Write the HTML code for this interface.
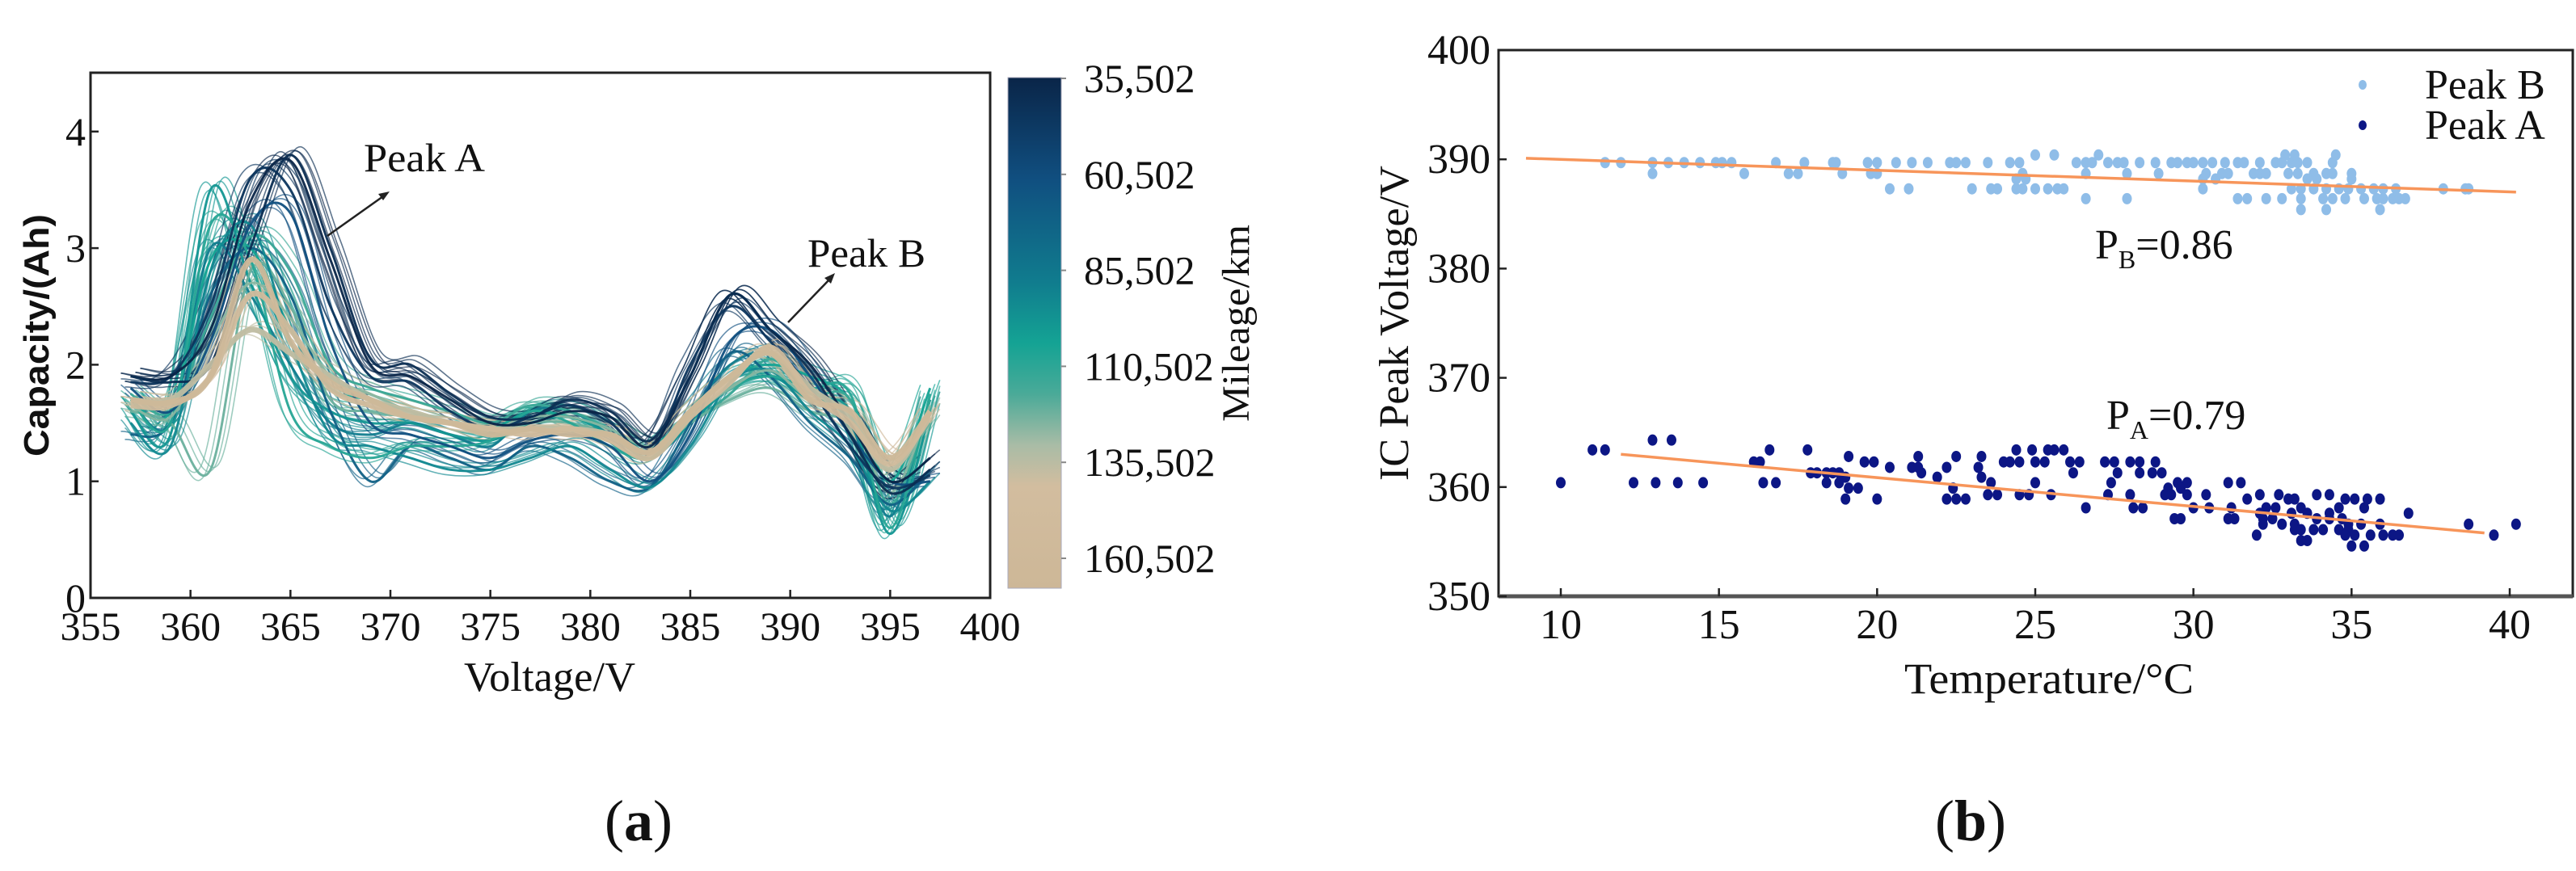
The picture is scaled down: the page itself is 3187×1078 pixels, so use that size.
<!DOCTYPE html>
<html><head><meta charset="utf-8"><style>
html,body{margin:0;padding:0;background:#fff;}
svg{display:block;}
text{font-family:"Liberation Serif",serif;fill:#111;}
</style></head><body>
<svg id="fig" width="3187" height="1078" viewBox="0 0 3187 1078" xmlns="http://www.w3.org/2000/svg">
<defs>
<linearGradient id="cmap" x1="0" y1="0" x2="0" y2="1">
<stop offset="0" stop-color="#0a2548"/>
<stop offset="0.2" stop-color="#104f80"/>
<stop offset="0.4" stop-color="#107c8e"/>
<stop offset="0.52" stop-color="#14a394"/>
<stop offset="0.62" stop-color="#4aaa98"/>
<stop offset="0.72" stop-color="#a9bca6"/>
<stop offset="0.8" stop-color="#d2bd9f"/>
<stop offset="1" stop-color="#cdb797"/>
</linearGradient>
</defs>
<g id="panelA"></g>
<g id="panelB"></g>
</svg>
<script>
// ---------- Panel (a) data ----------
const voltGrid = [357,359,361,363,365,367,369,371,373,375,377,379,381,383,385,387,389,391,393,395,397];
const curveMileage = [85502,95000,100000,110502,120000,70000,90000,105000,125000,60502,45000,35502,40000,135502,150000,160502];
const c0 = [1.7,1.5,3.0,2.6,2.0,1.5,1.4,1.5,1.4,1.3,1.6,1.6,1.4,1.25,1.6,2.0,2.1,1.8,1.5,0.7,1.7];
const c1 = [1.6,1.4,3.5,2.7,1.9,1.6,1.5,1.5,1.4,1.35,1.5,1.55,1.4,1.2,1.5,1.8,1.9,1.7,1.6,0.55,1.6];
const c2 = [1.7,1.6,2.9,3.0,2.3,1.8,1.7,1.6,1.5,1.45,1.6,1.55,1.45,1.3,1.6,1.9,2.0,1.9,1.7,1.0,1.8];
const c3 = [1.75,1.6,2.4,3.1,2.8,2.0,1.8,1.7,1.6,1.5,1.65,1.6,1.45,1.3,1.5,1.75,2.05,1.75,1.7,0.8,1.7];
const c4 = [1.6,1.5,1.1,2.8,2.5,1.7,1.6,1.55,1.5,1.4,1.5,1.5,1.4,1.25,1.5,1.7,1.8,1.6,1.5,1.1,1.5];
const c5 = [1.4,1.5,2.6,3.0,2.6,1.6,1.0,1.3,1.2,1.1,1.3,1.2,1.0,0.95,1.5,2.1,1.9,1.5,1.2,0.8,1.1];
const c6 = [1.5,1.3,2.8,3.2,2.2,1.4,1.3,1.2,1.1,1.1,1.2,1.3,1.1,0.95,1.3,1.85,1.95,1.6,1.3,0.75,1.0];
const c7 = [1.7,1.5,3.2,2.9,1.6,1.3,1.2,1.3,1.3,1.35,1.6,1.5,1.3,1.2,1.55,1.8,1.9,1.8,1.75,0.6,1.75];
const c8 = [1.65,1.55,2.2,2.7,2.4,1.9,1.75,1.6,1.5,1.45,1.55,1.55,1.45,1.3,1.55,1.8,1.95,1.7,1.6,0.9,1.65];
const c9 = [1.8,1.6,2.2,3.2,3.3,2.2,1.5,1.4,1.3,1.2,1.35,1.4,1.3,1.0,1.4,2.2,2.3,1.9,1.4,1.0,1.0];
const c10 = [1.85,1.9,2.5,3.6,3.5,2.5,1.9,1.85,1.6,1.45,1.55,1.65,1.5,1.25,2.0,2.5,2.2,1.8,1.3,0.95,1.05];
const c11 = [1.9,1.9,2.3,3.4,3.75,2.9,2.0,1.9,1.7,1.5,1.5,1.6,1.55,1.3,1.9,2.6,2.3,2.0,1.5,1.0,1.2];
const c12 = [1.9,1.85,2.0,3.0,3.8,3.0,2.05,2.0,1.75,1.55,1.55,1.7,1.6,1.35,1.9,2.6,2.3,1.95,1.4,0.9,1.1];
const c13 = [1.7,1.7,2.0,2.3,2.1,1.9,1.7,1.6,1.5,1.45,1.45,1.45,1.4,1.25,1.6,1.9,2.1,1.8,1.55,1.1,1.6];
const c14 = [1.65,1.65,1.9,2.6,2.3,1.8,1.65,1.55,1.5,1.45,1.4,1.45,1.35,1.2,1.55,1.85,2.15,1.75,1.5,1.15,1.55];
const c15 = [1.7,1.68,1.9,2.9,2.2,1.85,1.7,1.55,1.5,1.4,1.45,1.4,1.4,1.25,1.6,1.9,2.1,1.7,1.6,1.2,1.6];
const curves = [c0,c1,c2,c3,c4,c5,c6,c7,c8,c9,c10,c11,c12,c13,c14,c15];
const xTicksA = [355,360,365,370,375,380,385,390,395,400];
const yTicksA = [0,1,2,3,4];
const cbarTicks = [35502,60502,85502,110502,135502,160502];
const cbarLabels = ["35,502","60,502","85,502","110,502","135,502","160,502"];

// ---------- Panel (b) data ----------
const peakBTemp = [11.4,11.9,12.9,13.4,13.9,14.4,14.9,15.1,15.4,16.8,17.7,18.6,18.7,19.7,20.0,20.6,21.1,21.6,22.3,22.5,22.8,23.5,24.2,24.5,26.3,26.6,26.8,27.3,27.6,27.8,28.3,28.8,29.3,29.5,29.8,30.0,30.3,30.6,31.0,31.4,31.6,32.1,32.6,32.8,33.1,33.3,33.6,34.4,
25.0,25.6,27.0,32.9,33.2,34.5,
12.9,15.8,17.2,17.5,18.9,19.8,20.0,24.6,26.6,27.9,28.9,30.4,30.9,31.1,31.9,32.1,32.3,33.0,33.3,33.8,34.2,34.4,35.0,
24.4,24.7,30.3,30.7,33.6,33.9,35.0,
20.4,21.0,23.0,23.6,23.8,24.4,24.6,25.0,25.4,25.7,25.9,30.3,33.1,33.4,33.8,34.2,34.6,34.9,35.3,35.7,36.0,36.4,37.9,38.6,38.7,
26.6,27.9,31.4,31.7,32.3,32.8,33.4,34.1,34.4,34.8,35.4,35.8,36.0,36.3,36.5,36.7,
33.4,34.2,35.9];
const peakBVolt = [389.7,389.7,389.7,389.7,389.7,389.7,389.7,389.7,389.7,389.7,389.7,389.7,389.7,389.7,389.7,389.7,389.7,389.7,389.7,389.7,389.7,389.7,389.7,389.7,389.7,389.7,389.7,389.7,389.7,389.7,389.7,389.7,389.7,389.7,389.7,389.7,389.7,389.7,389.7,389.7,389.7,389.7,389.7,389.7,389.7,389.7,389.7,389.7,
390.4,390.4,390.4,390.4,390.4,390.4,
388.7,388.7,388.7,388.7,388.7,388.7,388.7,388.7,388.7,388.7,388.7,388.7,388.7,388.7,388.7,388.7,388.7,388.7,388.7,388.7,388.7,388.7,388.7,
388.2,388.2,388.2,388.2,388.2,388.2,388.2,
387.3,387.3,387.3,387.3,387.3,387.3,387.3,387.3,387.3,387.3,387.3,387.3,387.3,387.3,387.3,387.3,387.3,387.3,387.3,387.3,387.3,387.3,387.3,387.3,387.3,
386.4,386.4,386.4,386.4,386.4,386.4,386.4,386.4,386.4,386.4,386.4,386.4,386.4,386.4,386.4,386.4,
385.4,385.4,385.4];
const peakATemp = [12.9,13.5,
11.0,11.4,16.6,17.8,24.4,24.9,25.4,25.6,25.9,
19.1,21.3,22.5,23.3,
16.1,16.3,19.6,19.9,24.0,24.2,24.5,25.0,25.3,26.1,26.4,27.2,27.5,28.0,28.3,28.8,
20.4,21.1,21.3,22.2,23.2,
17.9,18.1,18.4,18.6,18.8,21.4,26.2,27.6,28.3,28.7,29.0,
19.0,21.9,23.3,
10.0,12.3,13.0,13.7,14.5,16.4,16.8,18.4,18.8,23.6,25.0,27.4,29.5,29.8,31.1,31.5,
19.1,19.4,22.4,29.2,29.6,
23.5,23.8,24.5,24.8,25.5,27.3,28.0,29.1,29.3,29.8,30.4,32.1,32.7,33.9,34.3,
19.0,20.0,22.2,22.5,22.8,31.7,33.0,33.2,34.8,35.1,35.5,35.9,
26.6,28.1,28.4,30.0,30.5,31.2,32.3,32.6,33.4,34.6,35.4,
32.1,33.1,33.6,34.3,36.8,
29.4,29.6,31.1,31.3,32.2,32.5,33.9,34.3,34.7,
32.2,32.8,33.2,34.9,35.3,35.9,38.7,40.2,
33.2,33.4,33.8,34.1,34.6,34.9,
32.0,34.8,35.1,35.6,36.0,36.3,36.5,39.5,
33.4,33.6,
35.0,35.4];
const peakAVolt = [364.3,364.3,
363.4,363.4,363.4,363.4,363.4,363.4,363.4,363.4,363.4,
362.8,362.8,362.8,362.8,
362.3,362.3,362.3,362.3,362.3,362.3,362.3,362.3,362.3,362.3,362.3,362.3,362.3,362.3,362.3,362.3,
361.8,361.8,361.8,361.8,361.8,
361.3,361.3,361.3,361.3,361.3,361.3,361.3,361.3,361.3,361.3,361.3,
360.9,360.9,360.9,
360.4,360.4,360.4,360.4,360.4,360.4,360.4,360.4,360.4,360.4,360.4,360.4,360.4,360.4,360.4,360.4,
359.9,359.9,359.9,359.9,359.9,
359.3,359.3,359.3,359.3,359.3,359.3,359.3,359.3,359.3,359.3,359.3,359.3,359.3,359.3,359.3,
358.9,358.9,358.9,358.9,358.9,358.9,358.9,358.9,358.9,358.9,358.9,358.9,
358.1,358.1,358.1,358.1,358.1,358.1,358.1,358.1,358.1,358.1,358.1,
357.6,357.6,357.6,357.6,357.6,
357.1,357.1,357.1,357.1,357.1,357.1,357.1,357.1,357.1,
356.6,356.6,356.6,356.6,356.6,356.6,356.6,356.6,
356.1,356.1,356.1,356.1,356.1,356.1,
355.6,355.6,355.6,355.6,355.6,355.6,355.6,355.6,
355.1,355.1,
354.6,354.6];
const fitBTemp = [8.9,40.2];
const fitBVolt = [390.1,387.0];
const fitATemp = [11.9,39.2];
const fitAVolt = [363.0,355.8];
const xTicksB = [10,15,20,25,30,35,40];
const yTicksB = [350,360,370,380,390,400];

const NS = "http://www.w3.org/2000/svg";
function mk(parent, tag, attrs, text){
  const e = document.createElementNS(NS, tag);
  for (const k in attrs) e.setAttribute(k, attrs[k]);
  if (text !== undefined) e.textContent = text;
  parent.appendChild(e);
  return e;
}

// ---------- Panel (a) ----------
const gA = document.getElementById('panelA');
const AL=112, AR=1225, AT=90, AB=740;
const xA = v => AL + (v-355)*(AR-AL)/45;
const yA = c => AB - c*144.3;

function hex(c){return [parseInt(c.slice(1,3),16),parseInt(c.slice(3,5),16),parseInt(c.slice(5,7),16)];}
const cmStops=[[35502,"#0a2548"],[60502,"#104f80"],[85502,"#107c8e"],[100000,"#14a394"],[115000,"#4aaa98"],[130000,"#a9bca6"],[140000,"#d2bd9f"],[167000,"#cdb797"]];
function cmap(m){
  for(let i=0;i<cmStops.length-1;i++){
    const [m0,c0s]=cmStops[i],[m1,c1s]=cmStops[i+1];
    if(m<=m1){const t=Math.max(0,(m-m0)/(m1-m0));const a=hex(c0s),b=hex(c1s);
      return "rgb("+a.map((v,j)=>Math.round(v+(b[j]-v)*t)).join(",")+")";}
  }
  return cmStops[cmStops.length-1][1];
}
function smoothPath(pts){
  let d="M"+pts[0][0].toFixed(1)+","+pts[0][1].toFixed(1);
  for(let i=0;i<pts.length-1;i++){
    const p0=pts[Math.max(0,i-1)],p1=pts[i],p2=pts[i+1],p3=pts[Math.min(pts.length-1,i+2)];
    const c1x=p1[0]+(p2[0]-p0[0])/6,c1y=p1[1]+(p2[1]-p0[1])/6;
    const c2x=p2[0]-(p3[0]-p1[0])/6,c2y=p2[1]-(p3[1]-p1[1])/6;
    d+=" C"+c1x.toFixed(1)+","+c1y.toFixed(1)+" "+c2x.toFixed(1)+","+c2y.toFixed(1)+" "+p2[0].toFixed(1)+","+p2[1].toFixed(1);
  }
  return d;
}
const linesG = mk(gA,'g',{});


const echoOffsets = [[6,-5],[-7,6],[12,-10],[-12,-4]];
curves.forEach((cv,i)=>{
  const m = curveMileage[i];
  echoOffsets.forEach(o=>{
    const pe = mk(linesG,'path',{d:smoothPath(cv.map((c,j)=>[xA(voltGrid[j])+o[0], yA(c)+o[1]])),fill:'none',stroke:cmap(m),'stroke-width':1.6,'stroke-opacity':0.65});
    
    
  });
});
curves.forEach((cv,i)=>{
  const m = curveMileage[i];
  const pts = cv.map((c,j)=>[xA(voltGrid[j]), yA(c)]);
  const p = mk(linesG,'path',{d:smoothPath(pts),fill:'none',stroke:cmap(m),'stroke-width': m>=130000?7:3,'stroke-opacity':0.95});
  
  
});

// axes frame
const frA = mk(gA,'rect',{x:AL,y:AT,width:AR-AL,height:AB-AT,fill:'none',stroke:'#222','stroke-width':3});


xTicksA.forEach(v=>{
  mk(gA,'line',{x1:xA(v),x2:xA(v),y1:AB,y2:AB-10,stroke:'#222','stroke-width':2.5});
  const t=mk(gA,'text',{x:xA(v),y:AB+52,'text-anchor':'middle','font-size':50},String(v));
  
  
});
yTicksA.forEach(v=>{
  mk(gA,'line',{x1:AL,x2:AL+10,y1:yA(v),y2:yA(v),stroke:'#222','stroke-width':2.5});
  const t=mk(gA,'text',{x:AL-6,y:yA(v)+17,'text-anchor':'end','font-size':50},String(v));
  
  
});
const xtA=mk(gA,'text',{x:680,y:855,'text-anchor':'middle','font-size':52,textLength:212,lengthAdjust:'spacingAndGlyphs'},'Voltage/V');


const ytA=mk(gA,'text',{x:0,y:0,'text-anchor':'middle','font-size':44,'font-weight':'bold',style:'font-family:"Liberation Sans",sans-serif',transform:'translate(60,415) rotate(-90)',textLength:300,lengthAdjust:'spacingAndGlyphs'},'Capacity/(Ah)');


// annotations
const paT=mk(gA,'text',{x:450,y:212,'font-size':50,textLength:150,lengthAdjust:'spacingAndGlyphs'},'Peak A');


mk(gA,'line',{x1:405,y1:292,x2:474,y2:243,stroke:'#222','stroke-width':2.5});
mk(gA,'path',{d:'M482,237 L468,240 L474,248 Z',fill:'#222'});
const pbT=mk(gA,'text',{x:999,y:330,'font-size':50,textLength:146,lengthAdjust:'spacingAndGlyphs'},'Peak B');


mk(gA,'line',{x1:975,y1:399,x2:1026,y2:346,stroke:'#222','stroke-width':2.5});
mk(gA,'path',{d:'M1033,338 L1020,344 L1028,351 Z',fill:'#222'});
// colorbar
const CT=96, CB=728, CL=1247, CR=1313;
const yC = m => CT + (m-35502)*(691-97)/125000 + 1;
const cb=mk(gA,'rect',{x:CL,y:CT,width:CR-CL,height:CB-CT,fill:'url(#cmap)',stroke:'#aab','stroke-width':1});


cbarTicks.forEach((m,i)=>{
  mk(gA,'line',{x1:CR,x2:CR+6,y1:yC(m),y2:yC(m),stroke:'#888','stroke-width':2});
  const t=mk(gA,'text',{x:1341,y:yC(m)+17,'font-size':50},cbarLabels[i]);
  
  
});
const cbt=mk(gA,'text',{x:0,y:0,'text-anchor':'middle','font-size':48,transform:'translate(1545,400) rotate(-90)',textLength:244,lengthAdjust:'spacingAndGlyphs'},'Mileage/km');


const capA=mk(gA,'text',{x:790,y:1040,'text-anchor':'middle','font-size':72},'');


mk(capA,'tspan',{},'(');mk(capA,'tspan',{'font-weight':'bold'},'a');mk(capA,'tspan',{},')');

// ---------- Panel (b) ----------
const gB = document.getElementById('panelB');
const BL=1854, BR=3183, BT=62, BB=738;
const xB = t => 1931 + (t-10)*(3105-1931)/30;
const yB = v => BB - (v-350)*(BB-BT)/50;
const ptsB=mk(gB,'g',{});


peakBTemp.forEach((t,i)=>{
  const c=mk(ptsB,'ellipse',{cx:xB(t),cy:yB(peakBVolt[i]),rx:6,ry:7,fill:'#8fbde8'});
  
  
});
const ptsA=mk(gB,'g',{});


peakATemp.forEach((t,i)=>{
  const c=mk(ptsA,'ellipse',{cx:xB(t),cy:yB(peakAVolt[i]),rx:6,ry:7,fill:'#0c1685'});
  
  
});
const fb=mk(gB,'line',{x1:xB(fitBTemp[0]),y1:yB(fitBVolt[0]),x2:xB(fitBTemp[1]),y2:yB(fitBVolt[1]),stroke:'#f7955a','stroke-width':3.5});


const fa=mk(gB,'line',{x1:xB(fitATemp[0]),y1:yB(fitAVolt[0]),x2:xB(fitATemp[1]),y2:yB(fitAVolt[1]),stroke:'#f7955a','stroke-width':3.5});


const frB=mk(gB,'rect',{x:BL,y:BT,width:BR-BL,height:BB-BT,fill:'none',stroke:'#222','stroke-width':3});


mk(gB,'line',{x1:BL,x2:BR,y1:BB,y2:BB,stroke:'#555','stroke-width':5});
xTicksB.forEach(v=>{
  mk(gB,'line',{x1:xB(v),x2:xB(v),y1:BB,y2:BB-10,stroke:'#222','stroke-width':2.5});
  const t=mk(gB,'text',{x:xB(v),y:BB+52,'text-anchor':'middle','font-size':52},String(v));
  
  
});
yTicksB.forEach(v=>{
  mk(gB,'line',{x1:BL,x2:BL+10,y1:yB(v),y2:yB(v),stroke:'#222','stroke-width':2.5});
  const t=mk(gB,'text',{x:BL-10,y:yB(v)+17,'text-anchor':'end','font-size':52},String(v));
  
  
});
const xtB=mk(gB,'text',{x:2535,y:858,'text-anchor':'middle','font-size':54,textLength:358,lengthAdjust:'spacingAndGlyphs'},'Temperature/°C');


const ytB=mk(gB,'text',{x:0,y:0,'text-anchor':'middle','font-size':52,transform:'translate(1742,400) rotate(-90)',textLength:390,lengthAdjust:'spacingAndGlyphs'},'IC Peak Voltage/V');


// legend
const lg=mk(gB,'g',{});


mk(lg,'ellipse',{cx:2923,cy:105,rx:5,ry:6,fill:'#8fbde8'});
const l1=mk(lg,'text',{x:3000,y:122,'font-size':52},'Peak B');


mk(lg,'ellipse',{cx:2923,cy:155,rx:5,ry:6,fill:'#0c1685'});
const l2=mk(lg,'text',{x:3000,y:172,'font-size':52},'Peak A');


// correlation labels
const pb=mk(gB,'text',{x:2592,y:320,'font-size':52},'P');


mk(pb,'tspan',{'font-size':32,dy:12},'B');mk(pb,'tspan',{dy:-12},'=0.86');
const pa=mk(gB,'text',{x:2606,y:531,'font-size':52},'P');


mk(pa,'tspan',{'font-size':32,dy:12},'A');mk(pa,'tspan',{dy:-12},'=0.79');
const capB=mk(gB,'text',{x:2438,y:1040,'text-anchor':'middle','font-size':72},'');


mk(capB,'tspan',{},'(');mk(capB,'tspan',{'font-weight':'bold'},'b');mk(capB,'tspan',{},')');
</script>
</body></html>
